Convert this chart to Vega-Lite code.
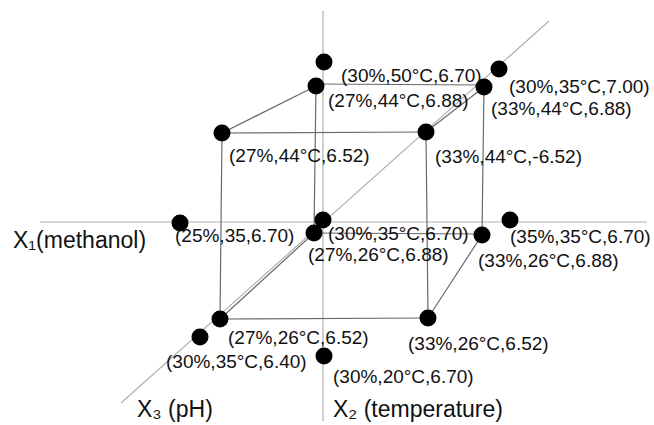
{
  "$schema": "https://vega.github.io/schema/vega-lite/v6.json",
  "width": 654,
  "height": 425,
  "autosize": {"type": "fit", "contains": "padding"},
  "padding": 0,
  "background": "white",
  "config": {"view": {"stroke": null}},
  "datasets": {
    "segments": [
      {"x": 40, "y": 222, "x2": 647, "y2": 222, "kind": "axis"},
      {"x": 323, "y": 11, "x2": 323, "y2": 421, "kind": "axis"},
      {"x": 121, "y": 403, "x2": 549, "y2": 21, "kind": "axis"},
      {"x": 222, "y": 133, "x2": 426, "y2": 132, "kind": "edge"},
      {"x": 426, "y": 132, "x2": 428, "y2": 318, "kind": "edge"},
      {"x": 428, "y": 318, "x2": 220, "y2": 319, "kind": "edge"},
      {"x": 220, "y": 319, "x2": 222, "y2": 133, "kind": "edge"},
      {"x": 316, "y": 84, "x2": 484, "y2": 85, "kind": "edge"},
      {"x": 484, "y": 85, "x2": 482, "y2": 235, "kind": "edge"},
      {"x": 482, "y": 234, "x2": 314, "y2": 233, "kind": "edge"},
      {"x": 314, "y": 233, "x2": 316, "y2": 84, "kind": "edge"},
      {"x": 222, "y": 133, "x2": 316, "y2": 86, "kind": "edge"},
      {"x": 426, "y": 132, "x2": 484, "y2": 87, "kind": "edge"},
      {"x": 428, "y": 318, "x2": 482, "y2": 235, "kind": "edge"},
      {"x": 220, "y": 319, "x2": 314, "y2": 233, "kind": "edge"}
    ],
    "points": [
      {"x": 324, "y": 62, "lx": 341, "ly": 82, "label": "(30%,50°C,6.70)"},
      {"x": 316, "y": 86, "lx": 328, "ly": 107, "label": "(27%,44°C,6.88)"},
      {"x": 484, "y": 87, "lx": 491, "ly": 115, "label": "(33%,44°C,6.88)"},
      {"x": 499, "y": 69, "lx": 509, "ly": 93, "label": "(30%,35°C,7.00)"},
      {"x": 222, "y": 133, "lx": 229, "ly": 162, "label": "(27%,44°C,6.52)"},
      {"x": 426, "y": 132, "lx": 435, "ly": 163, "label": "(33%,44°C,-6.52)"},
      {"x": 180, "y": 223, "lx": 175, "ly": 242, "label": "(25%,35,6.70)"},
      {"x": 323, "y": 220, "lx": 328, "ly": 240, "label": "(30%,35°C,6.70)"},
      {"x": 314, "y": 233, "lx": 308, "ly": 261, "label": "(27%,26°C,6.88)"},
      {"x": 510, "y": 220, "lx": 510, "ly": 243, "label": "(35%,35°C,6.70)"},
      {"x": 482, "y": 235, "lx": 478, "ly": 267, "label": "(33%,26°C,6.88)"},
      {"x": 220, "y": 319, "lx": 228, "ly": 344, "label": "(27%,26°C,6.52)"},
      {"x": 200, "y": 337, "lx": 166, "ly": 368, "label": "(30%,35°C,6.40)"},
      {"x": 324, "y": 356, "lx": 333, "ly": 383, "label": "(30%,20°C,6.70)"},
      {"x": 428, "y": 318, "lx": 408, "ly": 350, "label": "(33%,26°C,6.52)"}
    ],
    "axisLabels": [
      {"x": 13, "y": 248, "label": "X₁(methanol)"},
      {"x": 137, "y": 417, "label": "X₃ (pH)"},
      {"x": 333, "y": 417, "label": "X₂ (temperature)"}
    ]
  },
  "layer": [
    {
      "data": {"name": "segments"},
      "mark": {"type": "rule", "strokeWidth": 1.2},
      "encoding": {
        "x": {"field": "x", "type": "quantitative", "scale": {"domain": [0, 654]}, "axis": null},
        "y": {"field": "y", "type": "quantitative", "scale": {"domain": [0, 425], "reverse": true}, "axis": null},
        "x2": {"field": "x2"},
        "y2": {"field": "y2"},
        "color": {"field": "kind", "type": "nominal", "scale": {"domain": ["axis", "edge"], "range": ["#b0b0b0", "#6a6a6a"]}, "legend": null}
      }
    },
    {
      "data": {"name": "points"},
      "mark": {"type": "circle", "size": 290, "color": "black", "opacity": 1},
      "encoding": {
        "x": {"field": "x", "type": "quantitative", "scale": {"domain": [0, 654]}, "axis": null},
        "y": {"field": "y", "type": "quantitative", "scale": {"domain": [0, 425], "reverse": true}, "axis": null}
      }
    },
    {
      "data": {"name": "points"},
      "mark": {"type": "text", "align": "left", "baseline": "alphabetic", "font": "Liberation Sans", "fontSize": 19, "color": "#111"},
      "encoding": {
        "x": {"field": "lx", "type": "quantitative", "scale": {"domain": [0, 654]}, "axis": null},
        "y": {"field": "ly", "type": "quantitative", "scale": {"domain": [0, 425], "reverse": true}, "axis": null},
        "text": {"field": "label"}
      }
    },
    {
      "data": {"name": "axisLabels"},
      "mark": {"type": "text", "align": "left", "baseline": "alphabetic", "font": "Liberation Sans", "fontSize": 23, "color": "#111"},
      "encoding": {
        "x": {"field": "x", "type": "quantitative", "scale": {"domain": [0, 654]}, "axis": null},
        "y": {"field": "y", "type": "quantitative", "scale": {"domain": [0, 425], "reverse": true}, "axis": null},
        "text": {"field": "label"}
      }
    }
  ]
}
